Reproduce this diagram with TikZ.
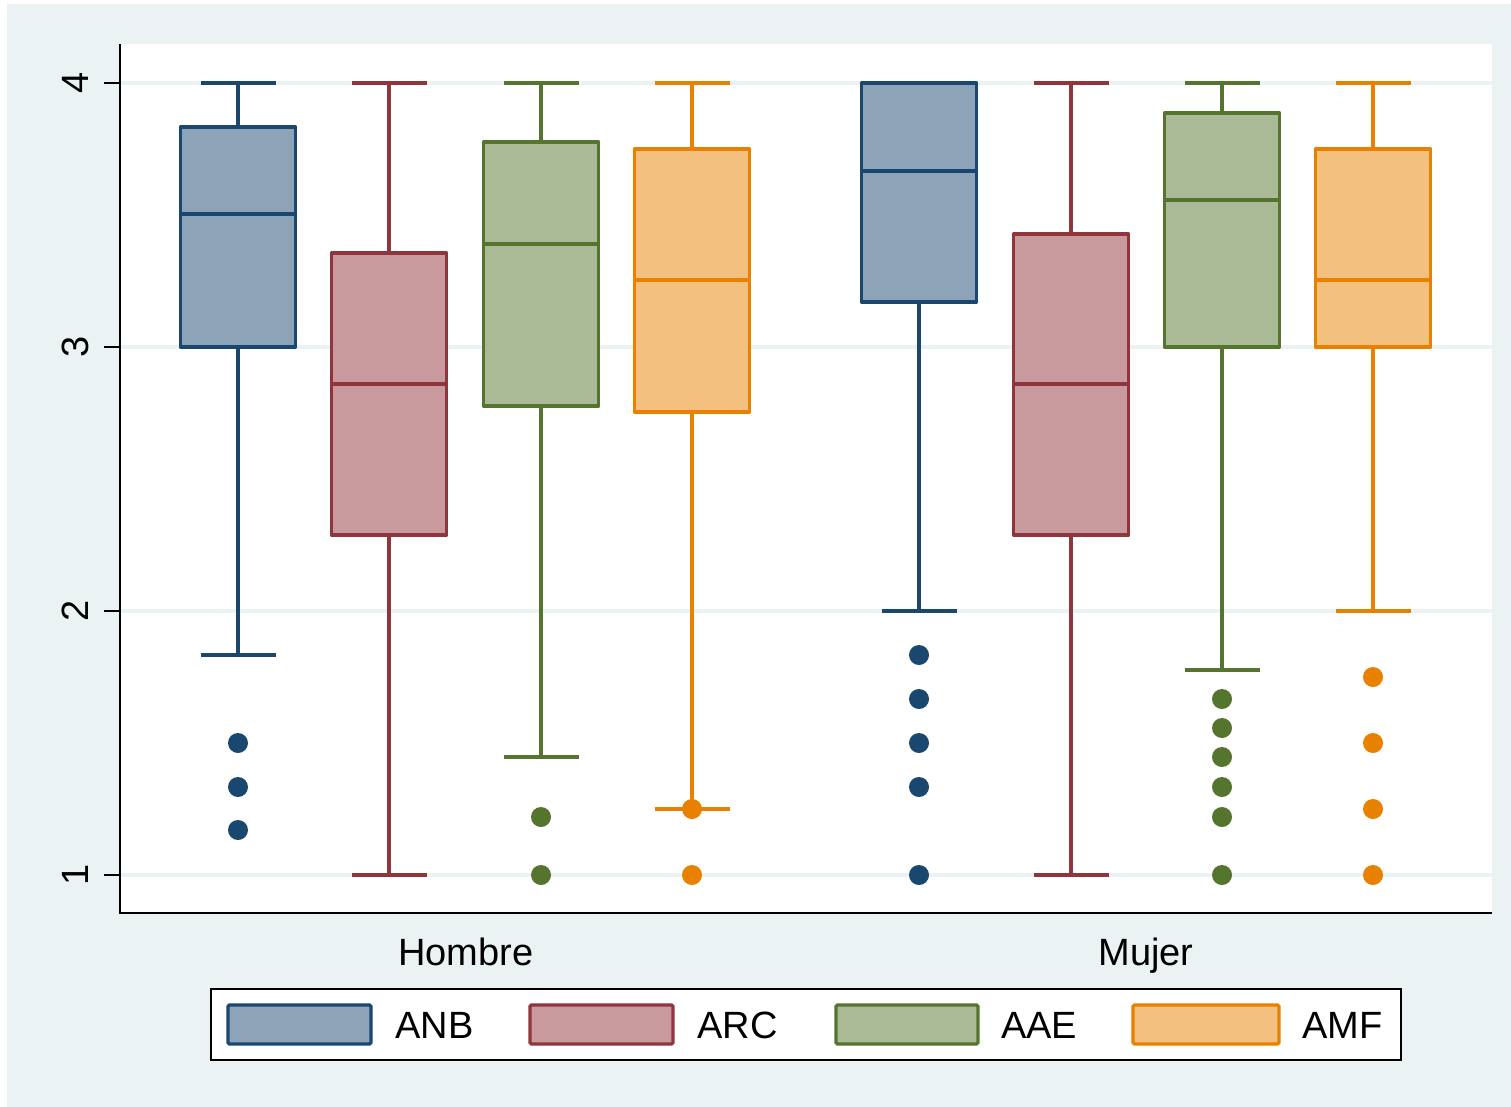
\documentclass[tikz,border=0pt]{standalone}
\usepackage{fontspec}
\setmainfont{Liberation Sans}
\definecolor{bgc}{RGB}{234,242,243}
\definecolor{cnavy}{RGB}{26,71,111}
\definecolor{cmaroon}{RGB}{144,53,59}
\definecolor{cgreen}{RGB}{85,117,47}
\definecolor{corange}{RGB}{232,128,0}
\definecolor{fnavy}{RGB}{141,163,183}
\definecolor{fmaroon}{RGB}{200,154,157}
\definecolor{fgreen}{RGB}{170,186,151}
\definecolor{forange}{RGB}{243,192,128}
\newcommand{\mybox}[9]{%
  % #1 x, #2 upper whisker, #3 q3, #4 median, #5 q1, #6 lower whisker, #7 line colour, #8 fill, #9 outliers
  \draw[boxline,draw=#7] (#1,#2) -- (#1,#3);
  \draw[boxline,draw=#7] (#1,#5) -- (#1,#6);
  \draw[boxline,draw=#7,fill=#8] (#1-57.5,#3) rectangle (#1+57.5,#5);
  \draw[boxline,draw=#7] (#1-57.5,#4) -- (#1+57.5,#4);
  \draw[boxline,draw=#7,line cap=butt] (#1-37.5,#2) -- (#1+37.5,#2);
  \draw[boxline,draw=#7,line cap=butt] (#1-37.5,#6) -- (#1+37.5,#6);
  \foreach \o in {#9} {\fill[#7] (#1,\o) circle (10);}
}
\begin{document}
\begin{tikzpicture}[x=0.75pt,y=-0.75pt,
  boxline/.style={line width=2.4pt,line join=round},
  lbl/.style={font=\fontsize{28.5pt}{30pt}\selectfont,inner sep=0pt},
  legkey/.style={line width=2.4pt,rounded corners=1pt}]
\useasboundingbox (0,0) rectangle (1511,1107);
\fill[white] (0,0) rectangle (1511,1107);
\fill[bgc] (7,4) rectangle (1511,1107);
% plot region
\fill[white] (120,44) rectangle (1492,913);
\foreach \yy in {83,347,611,875} {
  \draw[bgc,line width=2.8pt] (120,\yy) -- (1492,\yy);
  \draw[black,line width=1.4pt] (104,\yy) -- (120,\yy);
}
\node[lbl,rotate=90,anchor=base] (t4) at (88,83) {4};
\node[lbl,rotate=90,anchor=base] (t3) at (88,347) {3};
\node[lbl,rotate=90,anchor=base] (t2) at (88,611) {2};
\node[lbl,rotate=90,anchor=base] (t1) at (88,875) {1};
% boxes
\mybox{238}{83}{127}{214}{347}{655}{cnavy}{fnavy}{743,787,830}
\mybox{389}{83}{253}{384}{535}{875}{cmaroon}{fmaroon}{}
\mybox{541}{83}{142}{244}{406}{757}{cgreen}{fgreen}{817,875}
\mybox{692}{83}{149}{280}{412}{809}{corange}{forange}{809,875}
\mybox{919}{83}{83}{171}{302}{611}{cnavy}{fnavy}{655,699,743,787,875}
\mybox{1071}{83}{234}{384}{535}{875}{cmaroon}{fmaroon}{}
\mybox{1222}{83}{113}{200}{347}{670}{cgreen}{fgreen}{699,728,757,787,817,875}
\mybox{1373}{83}{149}{280}{347}{611}{corange}{forange}{677,743,809,875}
% axes
\draw[black,line width=1.5pt] (120,44) -- (120,913) -- (1492,913);
% group labels
\node[lbl,anchor=base] (hombre) at (466,965) {Hombre};
\node[lbl,anchor=base] (mujer) at (1146,965) {Mujer};
% legend
\draw[black,fill=white,line width=1.4pt] (211,989) rectangle (1401,1060);
\draw[legkey,draw=cnavy,fill=fnavy] (228,1005) rectangle (371,1044);
\draw[legkey,draw=cmaroon,fill=fmaroon] (530,1005) rectangle (673,1044);
\draw[legkey,draw=cgreen,fill=fgreen] (836,1005) rectangle (978,1044);
\draw[legkey,draw=corange,fill=forange] (1133,1005) rectangle (1279,1044);
\node[lbl,anchor=base west] (lanb) at (395,1038) {ANB};
\node[lbl,anchor=base west] (larc) at (697,1038) {ARC};
\node[lbl,anchor=base west] (laae) at (1001,1038) {AAE};
\node[lbl,anchor=base west] (lamf) at (1302,1038) {AMF};
\end{tikzpicture}
\end{document}
